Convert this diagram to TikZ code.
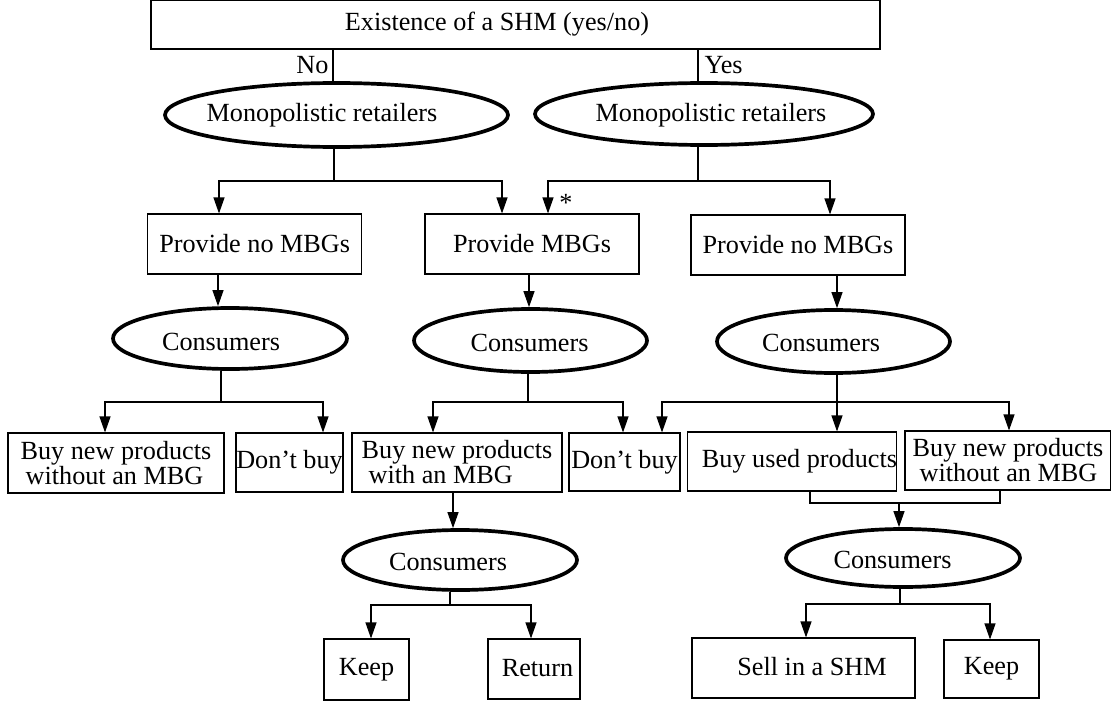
\documentclass[tikz,border=0pt]{standalone}
\usepackage{fontspec}
\setmainfont{Liberation Serif}
\usetikzlibrary{shapes.geometric,arrows.meta}
\begin{document}
\begin{tikzpicture}[x=1pt,y=-1pt,
  every node/.style={font=\fontsize{26.2}{25}\selectfont},
  box/.style={draw, line width=1.1pt, rectangle, inner sep=0pt, align=left},
  ell/.style={draw, line width=3.7pt, ellipse, inner sep=0pt},
  conn/.style={line width=1.1pt},
  arr/.style={conn, -{Triangle[length=16pt,width=11pt]}}
]
\useasboundingbox (0,0) rectangle (1111,706);

% top
\node[box, minimum width=729pt, minimum height=49pt,
  label={[xshift=-18.5pt, yshift=0pt]center:Existence of a SHM (yes/no)}] (top) at (515.5,24.5) {};

% retailers
\node[ell, minimum width=343pt, minimum height=64pt,
  label={[xshift=-14.5pt, yshift=0pt]center:Monopolistic retailers}] (eL) at (336.5,115) {};
\node[ell, minimum width=338pt, minimum height=62pt,
  label={[xshift=7pt, yshift=-1.5pt]center:Monopolistic retailers}] (eR) at (704,114) {};

% provide boxes
\node[box, minimum width=214pt, minimum height=60pt] (pL) at (254.7,244) {Provide no MBGs};
\node[box, minimum width=214pt, minimum height=60pt] (pM) at (532,244) {Provide MBGs};
\node[box, minimum width=214pt, minimum height=60pt] (pR) at (798,245) {Provide no MBGs};

% consumers
\node[ell, minimum width=234pt, minimum height=61pt,
  label={[xshift=-9pt, yshift=-3pt]center:Consumers}] (cL) at (230,338.5) {};
\node[ell, minimum width=233pt, minimum height=63pt,
  label={[xshift=-1pt, yshift=-2.5pt]center:Consumers}] (cM) at (530.5,340.5) {};
\node[ell, minimum width=233pt, minimum height=63pt,
  label={[xshift=-12.5pt, yshift=-1.5pt]center:Consumers}] (cR) at (833.5,341.5) {};

% decisions
\node[box, minimum width=216pt, minimum height=60pt] (bL1) at (116,463) {Buy new products\\\hspace*{5pt}without an MBG};
\node[box, minimum width=107pt, minimum height=59pt] (bL2) at (289.5,462.5) {Don’t buy};
\node[box, minimum width=210pt, minimum height=59pt] (bM1) at (457,462.5) {Buy new products\\\hspace*{7pt}with an MBG};
\node[box, minimum width=111pt, minimum height=58pt] (bM2) at (624.5,462) {Don’t buy};
\node[box, minimum width=208.5pt, minimum height=59pt,
  label={[xshift=7.5pt]center:Buy used products}] (bR1) at (792,461.5) {};
\node[box, minimum width=206pt, minimum height=59pt] (bR2) at (1008,460.5) {Buy new products\\\hspace*{7pt}without an MBG};

% second-stage consumers
\node[ell, minimum width=234pt, minimum height=60pt,
  label={[xshift=-12pt, yshift=-2pt]center:Consumers}] (cB1) at (460,560) {};
\node[ell, minimum width=234pt, minimum height=58pt,
  label={[xshift=-10.5pt, yshift=-2pt]center:Consumers}] (cB2) at (903,558) {};

% outcomes
\node[box, minimum width=85pt, minimum height=61pt] (kM) at (366.5,669.5) {Keep};
\node[box, minimum width=92pt, minimum height=60pt,
  label={[xshift=3.5pt, yshift=1pt]center:Return}] (rM) at (534,669) {};
\node[box, minimum width=223pt, minimum height=60pt,
  label={[xshift=8.5pt, yshift=1pt]center:Sell in a SHM}] (sR) at (803.5,668) {};
\node[box, minimum width=95pt, minimum height=58pt] (kR) at (991.5,669) {Keep};

% connectors: top to retailers
\coordinate (t1) at ([xshift=-182.5pt]top.south);
\coordinate (t2) at ([xshift=182.5pt]top.south);
\draw[conn] (t1) -- (t1 |- eL.north) node[midway, left, inner sep=4pt] {No};
\draw[conn] (t2) -- (t2 |- eR.north) node[midway, right, inner sep=6pt] {Yes};

% retailers to provide boxes
\coordinate (jL) at (334,181);
\draw[conn] (eL.south -| jL) -- (jL);
\draw[arr] (jL) -| ([xshift=-35.7pt]pL.north);
\draw[arr] (jL) -| ([xshift=-30pt]pM.north);
\coordinate (jR) at (698,181);
\draw[conn] (eR.south -| jR) -- (jR);
\draw[arr] (jR) -| ([xshift=16pt]pM.north);
\draw[arr] (jR) -| ([xshift=32pt]pR.north);
\node (star) at (566,203) {*};

% provide boxes to consumers
\coordinate (a1) at ([xshift=-36.7pt]pL.south);
\draw[arr] (a1) -- (a1 |- cL.north);
\coordinate (a2) at ([xshift=-3pt]pM.south);
\draw[arr] (a2) -- (a2 |- cM.north);
\coordinate (a3) at ([xshift=39pt]pR.south);
\draw[arr] (a3) -- (a3 |- cR.north);

% consumers to decisions
\coordinate (jcL) at (221,402);
\draw[conn] (cL.south -| jcL) -- (jcL);
\draw[arr] (jcL) -| ([xshift=-11pt]bL1.north);
\draw[arr] (jcL) -| ([xshift=33.5pt]bL2.north);
\coordinate (jcM) at (528,402);
\draw[conn] (cM.south -| jcM) -- (jcM);
\draw[arr] (jcM) -| ([xshift=-24pt]bM1.north);
\draw[arr] (jcM) -| ([xshift=-1.5pt]bM2.north);
\coordinate (jcR) at (837,402);
\draw[arr] (cR.south -| jcR) -- (jcR |- bR1.north);
\draw[arr] (jcR) -| ([xshift=37.5pt]bM2.north);
\draw[arr] (jcR) -| ([xshift=1pt]bR2.north);

% bracket to second-stage consumers (right)
\coordinate (jB) at (899,503);
\draw[conn] ([xshift=18pt]bR1.south) |- (jB) -| ([xshift=-8pt]bR2.south);
\draw[arr] (jB) -- (jB |- cB2.north);

% with-MBG branch
\coordinate (a4) at ([xshift=-4pt]bM1.south);
\draw[arr] (a4) -- (a4 |- cB1.north);
\coordinate (jcB1) at (450,605);
\draw[conn] (cB1.south -| jcB1) -- (jcB1);
\draw[arr] (jcB1) -| ([xshift=4.5pt]kM.north);
\draw[arr] (jcB1) -| ([xshift=-3pt]rM.north);

\coordinate (jcB2) at (900,604);
\draw[conn] (cB2.south -| jcB2) -- (jcB2);
\draw[arr] (jcB2) -| ([xshift=2.5pt]sR.north);
\draw[arr] (jcB2) -| ([xshift=-1.5pt]kR.north);
\end{tikzpicture}
\end{document}
